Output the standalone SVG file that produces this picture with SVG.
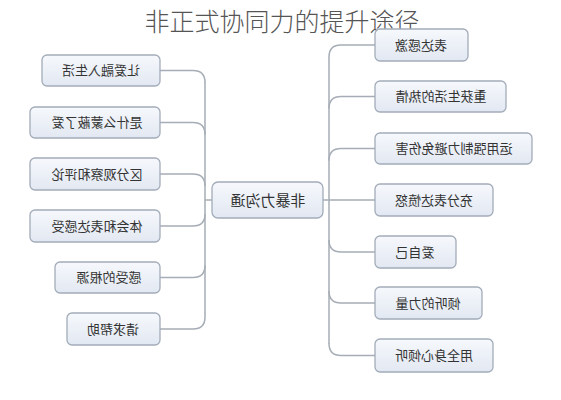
<svg xmlns="http://www.w3.org/2000/svg" width="561" height="400" viewBox="0 0 561 400">
<defs>
<linearGradient id="g" x1="0" y1="0" x2="0" y2="1">
<stop offset="0" stop-color="#f6f8fc"/>
<stop offset="1" stop-color="#e2e8f2"/>
</linearGradient>
<style>
.box{fill:url(#g);stroke:#a3acb9;stroke-width:1.3}
.t{font-family:"Noto Sans CJK SC","Noto Sans",sans-serif;font-size:13px;fill:#333;text-anchor:middle}
.c{font-size:15px}
.ln{fill:none;stroke:#a6adb6;stroke-width:1.5}
.title{font-family:"Noto Sans CJK SC","Noto Sans",sans-serif;font-size:25px;font-weight:300;fill:#555;text-anchor:middle}
</style>
</defs>
<rect width="561" height="400" fill="#fff"/>
<text class="title" x="282" y="31">非正式协同力的提升途径</text>
<g id="connectors">
<line class="ln" x1="205" y1="82" x2="205" y2="317"/>
<path class="ln" d="M160,70.5 H193 Q205,70.5 205,82.5"/>
<path class="ln" d="M160,122.5 H193 Q205,122.5 205,134.5"/>
<path class="ln" d="M160,174 H193 Q205,174 205,186"/>
<path class="ln" d="M160,226 H193 Q205,226 205,214"/>
<path class="ln" d="M160,277.5 H193 Q205,277.5 205,265.5"/>
<path class="ln" d="M160,329 H193 Q205,329 205,317"/>
<line class="ln" x1="205" y1="200" x2="212" y2="200"/>
<line class="ln" x1="329" y1="57" x2="329" y2="344"/>
<path class="ln" d="M329,57 Q329,45 341,45 H375"/>
<path class="ln" d="M329,108.5 Q329,96.5 341,96.5 H375"/>
<path class="ln" d="M329,160.5 Q329,148.5 341,148.5 H375"/>
<line class="ln" x1="323" y1="200" x2="375" y2="200"/>
<path class="ln" d="M329,240 Q329,252 341,252 H375"/>
<path class="ln" d="M329,291 Q329,303 341,303 H375"/>
<path class="ln" d="M329,343.5 Q329,355.5 341,355.5 H375"/>
</g>
<g id="center"><rect class="box" x="212" y="182" width="111" height="36" rx="6"/><text class="t c" transform="translate(268,205.5) scale(-1,1)">非暴力沟通</text></g>
<g id="l1"><rect class="box" x="42" y="55" width="118" height="31" rx="5"/><text class="t" transform="translate(101,75) scale(-1,1)">让爱融入生活</text></g>
<g id="l2"><rect class="box" x="30" y="107" width="130" height="31" rx="5"/><text class="t" transform="translate(97,127) scale(-1,1)">是什么蒙蔽了爱</text></g>
<g id="l3"><rect class="box" x="30" y="158" width="130" height="32" rx="5"/><text class="t" transform="translate(97,178.5) scale(-1,1)">区分观察和评论</text></g>
<g id="l4"><rect class="box" x="30" y="210" width="130" height="32" rx="5"/><text class="t" transform="translate(97,230.5) scale(-1,1)">体会和表达感受</text></g>
<g id="l5"><rect class="box" x="55" y="262" width="105" height="31" rx="5"/><text class="t" transform="translate(109,282) scale(-1,1)">感受的根源</text></g>
<g id="l6"><rect class="box" x="67" y="313" width="93" height="32" rx="5"/><text class="t" transform="translate(113,333.5) scale(-1,1)">请求帮助</text></g>
<g id="r1"><rect class="box" x="375" y="29" width="93" height="32" rx="5"/><text class="t" transform="translate(421,49.5) scale(-1,1)">表达感激</text></g>
<g id="r2"><rect class="box" x="375" y="81" width="131" height="31" rx="5"/><text class="t" transform="translate(441,101) scale(-1,1)">重获生活的热情</text></g>
<g id="r3"><rect class="box" x="375" y="133" width="157" height="31" rx="5"/><text class="t" transform="translate(454,153) scale(-1,1)">运用强制力避免伤害</text></g>
<g id="r4"><rect class="box" x="375" y="184" width="118" height="32" rx="5"/><text class="t" transform="translate(434,204.5) scale(-1,1)">充分表达愤怒</text></g>
<g id="r5"><rect class="box" x="375" y="236" width="81" height="32" rx="5"/><text class="t" transform="translate(415,256.5) scale(-1,1)">爱自己</text></g>
<g id="r6"><rect class="box" x="375" y="287" width="107" height="32" rx="5"/><text class="t" transform="translate(428,307.5) scale(-1,1)">倾听的力量</text></g>
<g id="r7"><rect class="box" x="375" y="339" width="118" height="33" rx="5"/><text class="t" transform="translate(434,360) scale(-1,1)">用全身心倾听</text></g>
</svg>
